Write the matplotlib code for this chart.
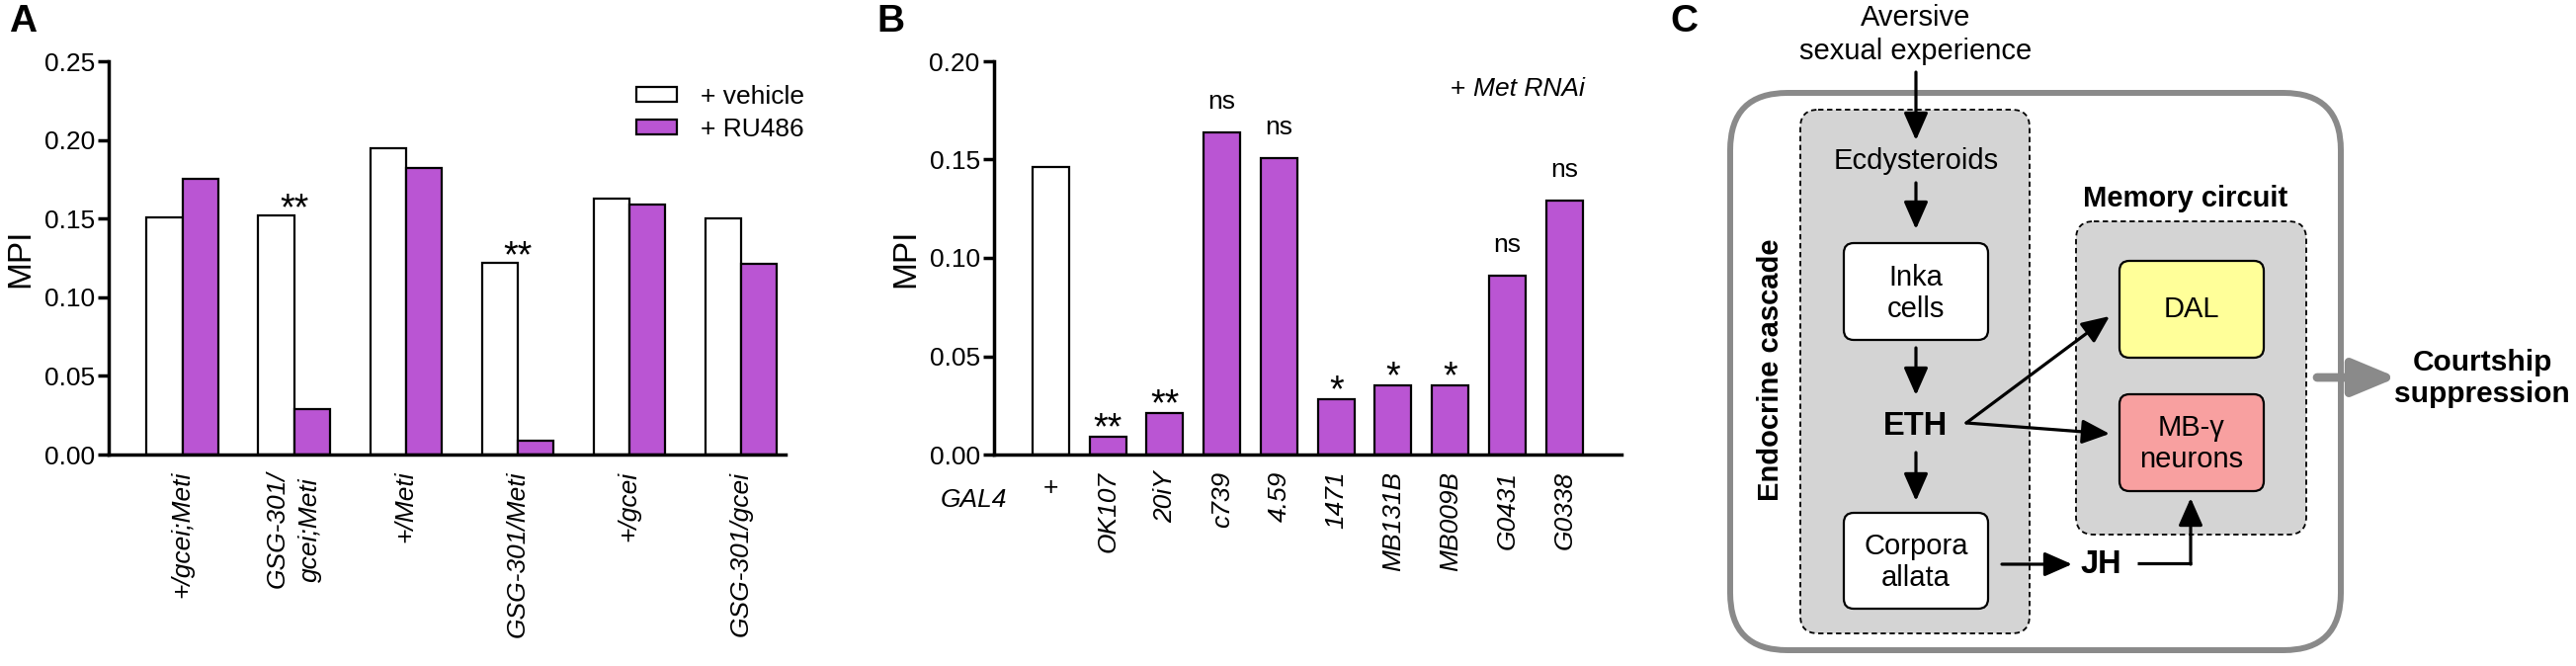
import numpy as np
import matplotlib.pyplot as plt
from matplotlib.patches import FancyBboxPatch, Patch

plt.rcParams['font.family'] = ['Liberation Sans', 'DejaVu Sans']

# ---- panel A data ----
geno_a = ['+/gcei;Meti', 'GSG-301/\ngcei;Meti', '+/Meti', 'GSG-301/Meti', '+/gcei', 'GSG-301/gcei']
vehicle = [0.151, 0.152, 0.195, 0.122, 0.163, 0.150]
ru486 = [0.175, 0.029, 0.182, 0.009, 0.159, 0.121]
sig_a = ['', '**', '', '**', '', '']

# ---- panel B data ----
gal4 = ['+', 'OK107', '20iY', 'c739', '4.59', '1471', 'MB131B', 'MB009B', 'G0431', 'G0338']
mpi_b = [0.146, 0.009, 0.021, 0.164, 0.151, 0.028, 0.035, 0.035, 0.091, 0.129]
sig_b = ['', '**', '**', 'ns', 'ns', '*', '*', '*', 'ns', 'ns']

purple = '#BA55D3'
W, H = 2607, 674
fig = plt.figure(figsize=(W/100, H/100), dpi=100)
FS = 19

def style_axis(ax):
    for s in ['top', 'right']:
        ax.spines[s].set_visible(False)
    ax.spines['left'].set_linewidth(2.5)
    ax.spines['bottom'].set_linewidth(2.5)
    ax.tick_params(axis='y', width=2.5, length=8, labelsize=FS, pad=2)
    ax.tick_params(axis='x', length=0, labelsize=FS)

# ---- A ----
axA = fig.add_axes([110/W, 1-460/H, (795-110)/W, 398/H])
x = np.arange(len(geno_a))
bw = 0.32
axA.bar(x - bw/2, vehicle, bw, color='white', edgecolor='black', linewidth=1.6)
axA.bar(x + bw/2, ru486, bw, color=purple, edgecolor='black', linewidth=1.6)
for i, s in enumerate(sig_a):
    if s:
        axA.text(x[i], vehicle[i] - 0.003, s, ha='center', va='baseline', fontsize=27)
axA.set_xlim(-0.66, 5.4)
axA.set_ylim(0, 0.25)
axA.set_yticks(np.arange(0, 0.26, 0.05))
axA.set_yticklabels(['%.2f' % v for v in np.arange(0, 0.26, 0.05)])
axA.set_xticks(x)
axA.set_xticklabels(geno_a, rotation=90, style='italic', va='top', ha='center', linespacing=1.5)
axA.set_ylabel('MPI', fontsize=24, labelpad=6)
style_axis(axA)
axA.tick_params(axis='x', pad=12)
axA.legend(handles=[Patch(facecolor='white', edgecolor='black', linewidth=1.6, label='+ vehicle'),
                    Patch(facecolor=purple, edgecolor='black', linewidth=1.6, label='+ RU486')],
           loc='upper left', bbox_to_anchor=(0.745, 1.0), frameon=False, fontsize=FS,
           handlelength=1.55, handleheight=0.5, handletextpad=0.9, labelspacing=0.35,
           borderpad=0.4)

# ---- B ----
axB = fig.add_axes([1005.6/W, 1-460/H, (1641-1005.6)/W, 398/H])
xb = np.arange(len(gal4))
cols = ['white'] + [purple]*(len(gal4)-1)
axB.bar(xb, mpi_b, 0.64, color=cols, edgecolor='black', linewidth=1.6)
for i, s in enumerate(sig_b):
    if s == 'ns':
        axB.text(xb[i], mpi_b[i] + 0.012, s, ha='center', va='baseline', fontsize=FS)
    elif s:
        axB.text(xb[i], mpi_b[i] - 0.001, s, ha='center', va='baseline', fontsize=27)
axB.set_xlim(-1, 10)
axB.set_ylim(0, 0.20)
axB.set_yticks(np.arange(0, 0.21, 0.05))
axB.set_yticklabels(['%.2f' % v for v in np.arange(0, 0.21, 0.05)])
axB.set_xticks(xb[1:])
axB.set_xticklabels(gal4[1:], rotation=90, style='italic', va='top', ha='center')
axB.text(xb[0], -0.017, gal4[0], ha='center', va='center', fontsize=FS)
axB.text(-1.35, -0.023, 'GAL4', ha='center', va='center', fontsize=FS, style='italic')
axB.text(7.0, 0.186, '+', ha='left', va='center', fontsize=FS)
axB.text(7.4, 0.186, 'Met RNAi', ha='left', va='center', fontsize=FS, style='italic')
axB.set_ylabel('MPI', fontsize=24, labelpad=6)
style_axis(axB)
axB.tick_params(axis='x', pad=12)

# ---- C diagram (pixel coords) ----
axC = fig.add_axes([0, 0, 1, 1])
axC.set_xlim(0, W)
axC.set_ylim(H, 0)
axC.axis('off')

def rbox(x0, y0, x1, y1, r, fc, ec, lw, ls='-'):
    axC.add_patch(FancyBboxPatch((x0, y0), x1-x0, y1-y0,
                                 boxstyle='round,pad=0,rounding_size=%d' % r,
                                 fc=fc, ec=ec, lw=lw, ls=ls))

def arrow(p0, p1, lw=2.3, ms=34, color='black', head='-|>,head_length=0.5,head_width=0.22'):
    axC.annotate('', xy=p1, xytext=p0,
                 arrowprops=dict(arrowstyle=head, lw=lw, color=color,
                                 mutation_scale=ms, shrinkA=0, shrinkB=0))

rbox(1751, 94, 2369, 658, 58, 'white', '#8a8a8a', 4.3)
rbox(1822, 111, 2054, 641, 18, '#d4d4d4', 'black', 1.3, (0, (3, 2)))
rbox(2101, 224, 2334, 541, 18, '#d4d4d4', 'black', 1.3, (0, (3, 2)))
rbox(1866, 246, 2012, 344, 10, 'white', 'black', 1.6)
rbox(1866, 519, 2012, 616, 10, 'white', 'black', 1.6)
rbox(2145, 264, 2291, 362, 10, '#FFFF99', 'black', 1.6)
rbox(2145, 399, 2291, 497, 10, '#F8A0A0', 'black', 1.6)

tk = dict(ha='center', va='center', fontsize=21)
axC.text(1939, 35, 'Aversive\nsexual experience', linespacing=1.25, **tk)
axC.text(1939, 163, 'Ecdysteroids', **tk)
axC.text(1939, 297, 'Inka\ncells', **tk)
axC.text(1939, 431, 'ETH', ha='center', va='center', fontsize=23.5, weight='bold')
axC.text(1939, 569, 'Corpora\nallata', **tk)
axC.text(2218, 313, 'DAL', **tk)
axC.text(2218, 449, 'MB-\u03b3\nneurons', **tk)
axC.text(2126, 571, 'JH', ha='center', va='center', fontsize=23.5, weight='bold')
axC.text(2212, 201, 'Memory circuit', ha='center', va='center', fontsize=21, weight='bold')
axC.text(1792, 374, 'Endocrine cascade', ha='center', va='center', fontsize=21,
         weight='bold', rotation=90)
axC.text(2512, 383, 'Courtship\nsuppression', ha='center', va='center', fontsize=21.5,
         weight='bold')

arrow((1939, 73), (1939, 142))
arrow((1939, 185), (1939, 232))
arrow((1939, 352), (1939, 400))
arrow((1939, 458), (1939, 507))
arrow((2026, 571), (2097, 571))
arrow((1990, 428), (2135, 320))
arrow((1990, 428), (2135, 439))
axC.plot([2163, 2218], [570, 570], color='black', lw=2.3, solid_capstyle='butt')
arrow((2217, 571), (2217, 504))
arrow((2345, 382), (2426, 382), lw=6.3, ms=45, color='#8a8a8a',
      head='-|>,head_length=0.6,head_width=0.25')

# panel letters
for lx, lab in [(23, 'A'), (901, 'B'), (1704, 'C')]:
    fig.text(lx/W, 1-22/H, lab, ha='center', va='center', fontsize=28, weight='bold')

fig.savefig('out.png', dpi=100)
